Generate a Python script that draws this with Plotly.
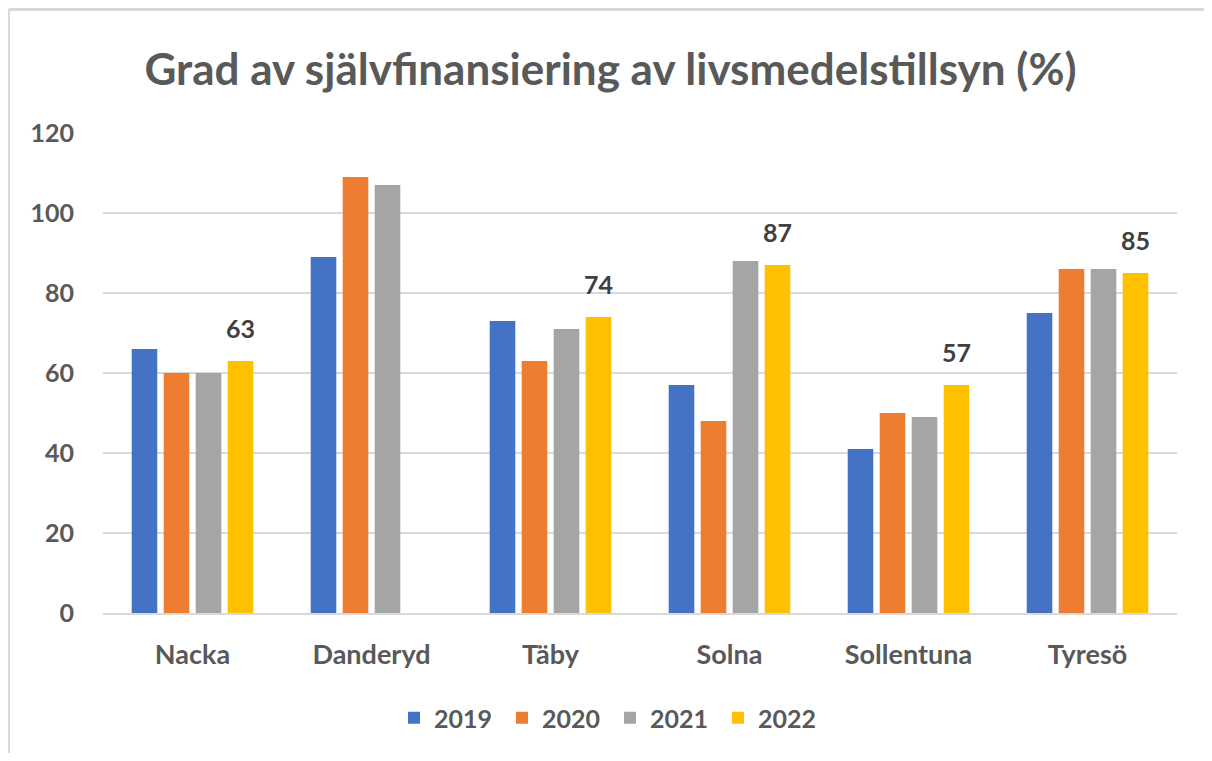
import plotly.graph_objects as go

categories = ["Nacka", "Danderyd", "Täby", "Solna", "Sollentuna", "Tyresö"]
years = ["2019", "2020", "2021", "2022"]
v2019 = [66, 89, 73, 57, 41, 75]
v2020 = [60, 109, 63, 48, 50, 86]
v2021 = [60, 107, 71, 88, 49, 86]
v2022 = [63, None, 74, 87, 57, 85]
colors = ["#4472C4", "#ED7D31", "#A5A5A5", "#FFC000"]
yticks = [0, 20, 40, 60, 80, 100, 120]

FONT = "Lato"
series = [v2019, v2020, v2021, v2022]

# page body has an 8px margin, so the figure is laid out 8px in from the window edge
W, H = 1196, 745
L, R, T = 95, 27, 125
B = H - 605
PW, PH = W - L - R, H - T - B

fig = go.Figure()
for name, vals, col in zip(years, series, colors):
    fig.add_trace(go.Bar(x=categories, y=vals, name=f"<b>{name}</b>",
                         marker=dict(color=col, line=dict(width=0))))

for c, v in zip(categories, v2022):
    if v is None:
        continue
    fig.add_annotation(x=c, y=v, text=f"<b>{v}</b>", showarrow=False, xshift=48, yshift=33,
                       font=dict(family=FONT, size=25, color="#404040"), xref="x", yref="y")

fig.update_layout(
    width=W, height=H,
    margin=dict(l=L, r=R, t=T, b=B),
    paper_bgcolor="white", plot_bgcolor="white",
    barmode="group", bargap=0.285, bargroupgap=0.2,
    title=dict(text="<b>Grad av självfinansiering av livsmedelstillsyn (%)</b>", x=602.5 / W, xanchor="center",
               y=1 - 62 / H, yanchor="middle",
               font=dict(family=FONT, size=44, color="#595959")),
    font=dict(family=FONT, color="#595959"),
    legend=dict(orientation="h", x=(602 - L) / PW, xanchor="center", y=(PH - (710 - T)) / PH, yanchor="middle",
                font=dict(family=FONT, size=25, color="#595959"), traceorder="normal",
                itemwidth=30, entrywidth=63, entrywidthmode="pixels"),
    showlegend=True,
)
fig.update_yaxes(range=[0, 120], tickvals=yticks, ticktext=[f"<b>{t}</b>" for t in yticks],
                 showgrid=True, gridcolor="#D9D9D9", gridwidth=2, zeroline=False,
                 showline=False, ticks="", ticklabelstandoff=28,
                 tickfont=dict(family=FONT, size=25, color="#595959"))
fig.update_xaxes(tickvals=categories, ticktext=[f"<b>{c}</b>" for c in categories],
                 showline=True, linecolor="#D9D9D9", linewidth=2, ticks="",
                 ticklabelstandoff=17,
                 tickfont=dict(family=FONT, size=27, color="#595959"))

# outer frame (left and top edges visible in the reference)
fx = (0.5 - L) / PW
fy = (PH + T - 1.5) / PH
fig.add_shape(type="line", xref="paper", yref="paper",
              x0=fx, x1=fx, y0=fy, y1=-(B + 10) / PH,
              line=dict(color="#D9D9D9", width=3))
fig.add_shape(type="line", xref="paper", yref="paper",
              x0=fx, x1=(W - L + 10) / PW, y0=fy, y1=fy,
              line=dict(color="#D9D9D9", width=3))

fig.write_html("out.html")
